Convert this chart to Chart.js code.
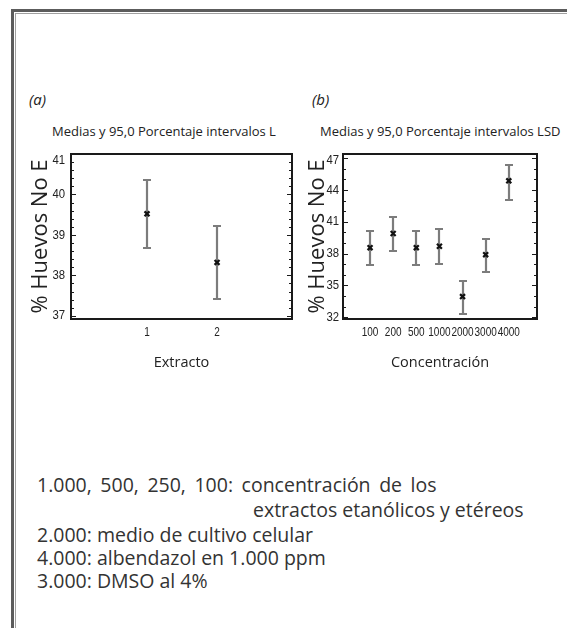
<!DOCTYPE html>
<html><head><meta charset="utf-8">
<script src="https://cdn.jsdelivr.net/npm/chart.js@4"></script>
<style>
html,body{margin:0;padding:0;background:#fff;}
body{width:567px;height:628px;overflow:hidden;position:relative;font-family:'Open Sans',sans-serif;color:#333}
.frame1{position:absolute;left:11px;top:9px;right:-10px;bottom:-10px;border-left:3px solid #5c5c5c;border-top:3px solid #5c5c5c}
.frame2{position:absolute;left:15px;top:13px;right:-10px;bottom:-10px;border-left:1px solid #a0a0a0;border-top:1px solid #a0a0a0}
.t{position:absolute;white-space:nowrap;line-height:1}
.fn{font-size:19.5px;color:#333}
canvas{position:absolute}
</style></head><body>
<div class="frame1"></div><div class="frame2"></div>
<div class="t" style="left:29px;top:92px;font-style:italic;font-size:15px;color:#222">(a)</div>
<div class="t" style="left:52px;top:125px;font-size:13px;color:#222">Medias y 95,0 Porcentaje intervalos L</div>
<div class="t" style="left:312px;top:92px;font-style:italic;font-size:15px;color:#222">(b)</div>
<div class="t" style="left:320px;top:125px;font-size:13px;color:#222">Medias y 95,0 Porcentaje intervalos LSD</div>
<canvas id="ca" width="300" height="260" style="left:0;top:120px"></canvas>
<canvas id="cb" width="267" height="260" style="left:300px;top:120px"></canvas>
<div class="t fn" style="left:37px;top:475px;word-spacing:3.5px">1.000, 500, 250, 100: concentración de los</div>
<div class="t fn" style="left:253px;top:500px">extractos etanólicos y etéreos</div>
<div class="t fn" style="left:37px;top:525px">2.000: medio de cultivo celular</div>
<div class="t fn" style="left:37px;top:548px">4.000: albendazol en 1.000 ppm</div>
<div class="t fn" style="left:37px;top:571px">3.000: DMSO al 4%</div>
<script>
// ---- data ----
const catsA = ['1', '2'];
const xA = [1, 2];
const meanA = [39.52, 38.32];
const lowA = [38.68, 37.41];
const highA = [40.36, 39.23];
const yTicksA = [37, 38, 39, 40, 41];

const catsB = ['100', '200', '500', '1000', '2000', '3000', '4000'];
const xB = [1, 2, 3, 4, 5, 6, 7];
const meanB = [38.56, 39.89, 38.56, 38.69, 33.95, 37.90, 44.85];
const lowB = [36.95, 38.24, 36.89, 37.05, 32.31, 36.25, 43.05];
const highB = [40.14, 41.41, 40.12, 40.27, 35.46, 39.42, 46.36];
const yTicksB = [32, 35, 38, 41, 44, 47];

const LABEL_FONT = "13.5px 'Liberation Sans', Arial, sans-serif";

const decor = {
  id: 'decor',
  beforeDatasetsDraw(chart, args, o) {
    const {ctx, scales: {x, y}} = chart;
    ctx.save();
    ctx.strokeStyle = '#7c7c7c';
    ctx.lineWidth = 2.2;
    o.xs.forEach((xv, i) => {
      const px = Math.round(x.getPixelForValue(xv));
      const top = Math.round(y.getPixelForValue(o.high[i]));
      const bot = Math.round(y.getPixelForValue(o.low[i]));
      ctx.beginPath();
      ctx.moveTo(px, top); ctx.lineTo(px, bot);
      ctx.moveTo(px - 4, top); ctx.lineTo(px + 4, top);
      ctx.moveTo(px - 4, bot); ctx.lineTo(px + 4, bot);
      ctx.stroke();
    });
    ctx.restore();
  },
  afterDraw(chart, args, o) {
    const {ctx, chartArea: a, scales: {x, y}} = chart;
    ctx.save();
    // inward tick marks on both vertical sides
    ctx.strokeStyle = '#1a1a1a';
    ctx.lineWidth = 1.2;
    const start = Math.ceil(y.min / o.minor - 1e-9);
    for (let k = start; k * o.minor <= y.max + 1e-9; k++) {
      const v = k * o.minor;
      const isMajor = o.major.some(m => Math.abs(m - v) < 1e-6);
      const len = isMajor ? 5 : 3;
      const py = Math.round(y.getPixelForValue(v)) + 0.5;
      ctx.beginPath();
      ctx.moveTo(a.left, py); ctx.lineTo(a.left + len, py);
      ctx.moveTo(a.right, py); ctx.lineTo(a.right - len, py);
      ctx.stroke();
    }
    // frame
    ctx.lineWidth = 2;
    ctx.strokeRect(a.left, a.top, a.right - a.left, a.bottom - a.top);
    // condensed tick labels, taken from the scales' own ticks
    ctx.fillStyle = '#222';
    ctx.font = LABEL_FONT;
    ctx.textBaseline = 'middle';
    ctx.textAlign = 'right';
    y.ticks.forEach(t => {
      let py = y.getPixelForValue(t.value);
      py = Math.max(py, a.top + 6);
      ctx.save();
      ctx.translate(a.left - o.tickPad, py);
      ctx.scale(0.84, 1);
      ctx.fillText(String(t.value), 0, 0);
      ctx.restore();
    });
    ctx.textAlign = 'center';
    x.ticks.forEach((t, i) => {
      const px = x.getPixelForValue(t.value);
      ctx.save();
      ctx.translate(px, a.bottom + 13);
      ctx.scale(0.74, 1);
      ctx.fillText(o.cats[i], 0, 0);
      ctx.restore();
    });
    ctx.restore();
  }
};

function makeChart(id, cfg) {
  return new Chart(document.getElementById(id), {
    type: 'scatter',
    data: {
      datasets: [{
        data: cfg.xs.map((xv, i) => ({x: xv, y: cfg.mean[i]})),
        pointStyle: 'crossRot',
        radius: 3.5,
        borderWidth: 2.2,
        borderColor: '#111',
        backgroundColor: '#111',
        showLine: false
      }]
    },
    options: {
      responsive: false,
      animation: false,
      events: [],
      layout: {padding: {left: 0, top: 34, right: cfg.padRight, bottom: 0}},
      plugins: {
        legend: {display: false},
        tooltip: {enabled: false},
        decor: {xs: cfg.xs, cats: cfg.cats, low: cfg.low, high: cfg.high, minor: cfg.minor, major: cfg.yTicks, tickPad: cfg.tickPad}
      },
      scales: {
        x: {
          type: 'linear', min: cfg.xmin, max: cfg.xmax,
          grid: {display: false, drawTicks: false},
          border: {display: false},
          afterBuildTicks: s => { s.ticks = cfg.xs.map(v => ({value: v})); },
          ticks: {display: false},
          title: {display: true, text: cfg.xTitle, font: {family: "'Open Sans', sans-serif", size: 14.5}, color: '#222', padding: {top: 0, bottom: 8}},
          afterFit: s => { s.height = 61; }
        },
        y: {
          type: 'linear', min: cfg.ymin, max: cfg.ymax,
          grid: {display: false, drawTicks: false},
          border: {display: false},
          afterBuildTicks: s => { s.ticks = cfg.yTicks.map(v => ({value: v})); },
          ticks: {display: false},
          title: {display: true, text: '% Huevos No E', font: {family: "'Open Sans', sans-serif", size: 22}, color: '#222', padding: {top: cfg.titlePad, bottom: 0}},
          afterFit: s => { s.width = cfg.yWidth; }
        }
      }
    },
    plugins: [decor]
  });
}

makeChart('ca', {
  xs: xA, cats: catsA, mean: meanA, low: lowA, high: highA, yTicks: yTicksA,
  xmin: -0.085, xmax: 3.07, ymin: 36.92, ymax: 41.0, minor: 0.2,
  padRight: 8, yWidth: 71, tickPad: 6, titlePad: 28, xTitle: 'Extracto'
});
makeChart('cb', {
  xs: xB, cats: catsB, mean: meanB, low: lowB, high: highB, yTicks: yTicksB,
  xmin: -0.17, xmax: 8.22, ymin: 31.84, ymax: 47.38, minor: 1,
  padRight: 30, yWidth: 43, tickPad: 4, titlePad: 5, xTitle: 'Concentración'
});
</script>
</body></html>
